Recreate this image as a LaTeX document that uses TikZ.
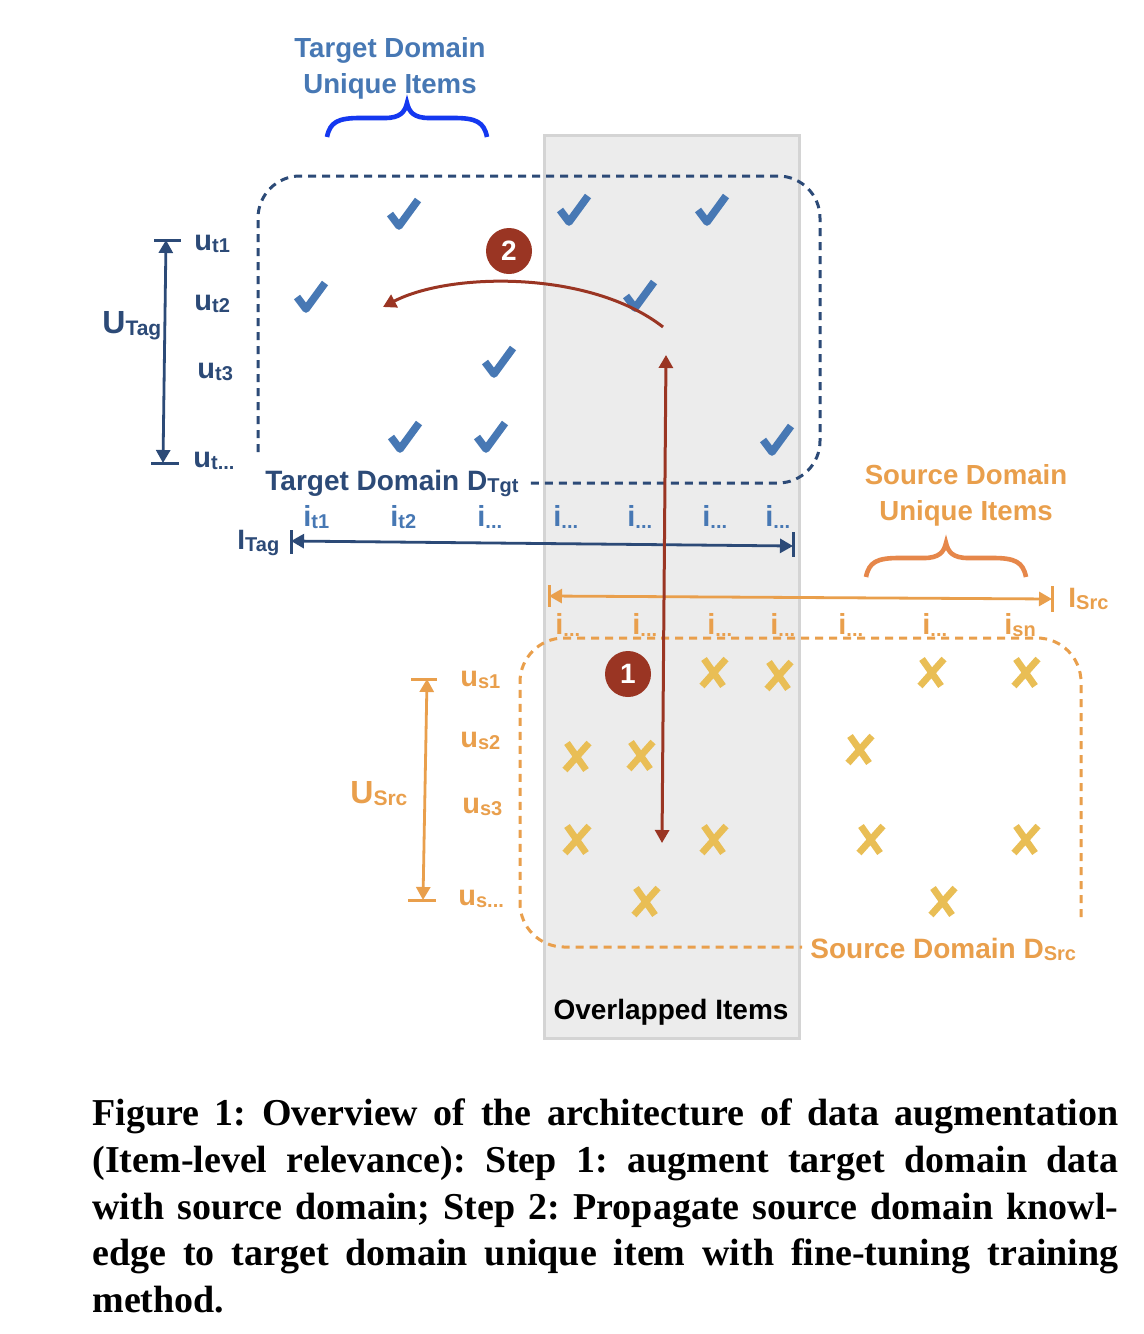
\documentclass[tikz,border=0pt]{standalone}
\usepackage{fontspec}
\setmainfont{Liberation Sans}
\newfontfamily\capserif{Liberation Serif}
\usetikzlibrary{arrows.meta}
\definecolor{navy}{HTML}{2C4A77}
\definecolor{midblue}{HTML}{4778B4}
\definecolor{brblue}{HTML}{1438F0}
\definecolor{orng}{HTML}{E99F4C}
\definecolor{yell}{HTML}{E9BE55}
\definecolor{obrace}{HTML}{E6874A}
\definecolor{redd}{HTML}{9A3523}
\definecolor{grayfill}{HTML}{ECECEC}
\definecolor{grayedge}{HTML}{D4D4D4}
\newcommand\mylab[4]{{\fontsize{#3}{#3}\selectfont #1}\raisebox{-1pt}{\fontsize{#4}{#4}\selectfont #2}}
\tikzset{
  lbl/.style={inner sep=0, anchor=base west, font=\bfseries},
  dbl/.style={arrows={Triangle[length=6.5pt,width=7pt]-Triangle[length=6.5pt,width=7pt]}},
  sgl/.style={arrows={-Triangle[length=6.5pt,width=7pt]}},
  barline/.style={line width=1.5pt},
  tgtdash/.style={draw=navy, line width=1.5pt, dash pattern=on 4pt off 3pt},
  srcdash/.style={draw=orng, line width=1.5pt, dash pattern=on 4pt off 3pt},
  chk/.pic={\draw[midblue, line width=3.8pt, line join=round] (-14,-1) -- (-5,11) -- (14,-15);},
  crs/.pic={\draw[yell, line width=3.4pt] (-10,-14) -- (9,13) (12,-14) -- (-12,13);},
  brc/.pic={\draw[line width=2.3pt] (-80,0) .. controls (-77,-15) and (-69,-19) .. (-47,-19) -- (-22,-19) .. controls (-7,-19) and (-2,-25) .. (0,-34) .. controls (2,-25) and (7,-19) .. (22,-19) -- (47,-19) .. controls (69,-19) and (77,-15) .. (80,0);},
  capline/.style={inner sep=0, anchor=base west, font={\capserif\bfseries\frenchspacing\fontsize{19pt}{23pt}\selectfont}}
}
\begin{document}
\begin{tikzpicture}[x=0.5pt,y=-0.5pt]
\useasboundingbox (0,0) rectangle (1144,1334);
\fill[white] (0,0) rectangle (1144,1334);
% overlapped items box
\node (ovl) [draw=grayedge, fill=grayfill, line width=1.5pt, minimum width=127.5pt, minimum height=451.5pt, inner sep=0, anchor=north west] at (543,134) {};
\node (ovlT) [inner sep=0, anchor=base, font=\bfseries\fontsize{14pt}{14pt}\selectfont] at (671,1019) {Overlapped Items};
% dashed domain outlines
\draw[tgtdash, rounded corners=21pt] (258,452) -- (258,176) -- (820,176) -- (820,483) -- (525,483);
\draw[srcdash, rounded corners=22pt] (1081,917) -- (1081,638) -- (520,638) -- (520,947) -- (802,947);
% titles and braces
\node (tgtU) [inner sep=0, align=center, text=midblue, font=\bfseries\fontsize{13.8pt}{18pt}\selectfont] at (390,68) {Target Domain\\Unique Items};
\node (srcU) [inner sep=0, align=center, text=orng, font=\bfseries\fontsize{13.8pt}{18pt}\selectfont] at (966,495) {Source Domain\\Unique Items};
\pic[color=brblue] at (407,137) {brc};
\pic[color=obrace] at (946,577) {brc};
% domain labels
\node[lbl, text=navy] (tgtD) at (265,490) {\mylab{Target Domain D}{Tgt}{14pt}{10pt}};
\node[lbl, text=orng] (srcD) at (810,958) {\mylab{Source Domain D}{Src}{14pt}{10pt}};
% target user labels
\node[lbl, text=navy] (uTag) at (102,333) {\mylab{U}{Tag}{16pt}{10.5pt}};
\node[lbl, text=navy] (ut1) at (194,250) {\mylab{u}{t1}{14.5pt}{10pt}};
\node[lbl, text=navy] (ut2) at (194,310) {\mylab{u}{t2}{14.5pt}{10pt}};
\node[lbl, text=navy] (ut3) at (197,378) {\mylab{u}{t3}{14.5pt}{10pt}};
\node[lbl, text=navy] (utd) at (193,467) {\mylab{u}{t...}{14.5pt}{10pt}};
% target item labels
\node[lbl, text=navy] (ITag) at (237,549) {\mylab{I}{Tag}{14pt}{10pt}};
\node[lbl, text=midblue] (it1) at (303,526) {\mylab{i}{t1}{14.5pt}{10pt}};
\node[lbl, text=midblue] (it2) at (390,526) {\mylab{i}{t2}{14.5pt}{10pt}};
\node[lbl, text=midblue] (it3) at (477,526) {\mylab{i}{...}{14.5pt}{10pt}};
\node[lbl, text=midblue] (it4) at (553,526) {\mylab{i}{...}{14.5pt}{10pt}};
\node[lbl, text=midblue] (it5) at (627,526) {\mylab{i}{...}{14.5pt}{10pt}};
\node[lbl, text=midblue] (it6) at (702,526) {\mylab{i}{...}{14.5pt}{10pt}};
\node[lbl, text=midblue] (it7) at (765,526) {\mylab{i}{...}{14.5pt}{10pt}};
% source item labels
\node[lbl, text=orng] (ISrc) at (1068,607) {\mylab{I}{Src}{14pt}{10pt}};
\node[lbl, text=orng] (is1) at (555,634) {\mylab{i}{...}{14.5pt}{10pt}};
\node[lbl, text=orng] (is2) at (632,634) {\mylab{i}{...}{14.5pt}{10pt}};
\node[lbl, text=orng] (is3) at (707,634) {\mylab{i}{...}{14.5pt}{10pt}};
\node[lbl, text=orng] (is4) at (770,634) {\mylab{i}{...}{14.5pt}{10pt}};
\node[lbl, text=orng] (is5) at (838,634) {\mylab{i}{...}{14.5pt}{10pt}};
\node[lbl, text=orng] (is6) at (922,634) {\mylab{i}{...}{14.5pt}{10pt}};
\node[lbl, text=orng] (isn) at (1004,634) {\mylab{i}{sn}{14.5pt}{10pt}};
% source user labels
\node[lbl, text=orng] (uSrc) at (350,803) {\mylab{U}{Src}{16pt}{10.5pt}};
\node[lbl, text=orng] (us1) at (460,686) {\mylab{u}{s1}{14.5pt}{10pt}};
\node[lbl, text=orng] (us2) at (460,747) {\mylab{u}{s2}{14.5pt}{10pt}};
\node[lbl, text=orng] (us3) at (462,813) {\mylab{u}{s3}{14.5pt}{10pt}};
\node[lbl, text=orng] (usd) at (458,905) {\mylab{u}{s...}{14.5pt}{10pt}};
% check marks
\foreach \p in {(404,215),(574,211),(712,211),(311,298),(640,297),(499,363),(405,438),(491,438),(777,441)}
  \pic at \p {chk};
% crosses
\foreach \p in {(714,673),(779,676),(932,673),(1026,673),(577,757),(641,756),(860,750),(577,840),(714,840),(871,840),(1026,840),(646,902),(943,902)}
  \pic at \p {crs};
% user / item range arrows
\coordinate (uTt) at (166,240); \coordinate (uTb) at (163,463);
\draw[navy, line width=1.4pt, dbl] (uTt) -- (uTb);
\draw[navy, barline] ([xshift=-6pt]uTt) -- ([xshift=7.5pt]uTt);
\draw[navy, barline] ([xshift=-6pt]uTb) -- ([xshift=8pt]uTb);
\coordinate (ITl) at (291,541); \coordinate (ITr) at (793,546);
\draw[navy, line width=1.4pt, dbl] (ITl) -- (ITr);
\draw[navy, barline] ([yshift=5.5pt]ITl) -- ([yshift=-6.5pt]ITl);
\draw[navy, barline] ([yshift=7pt]ITr) -- ([yshift=-5.5pt]ITr);
\coordinate (uSt) at (427,679); \coordinate (uSb) at (423,900);
\draw[orng, line width=1.4pt, dbl] (uSt) -- (uSb);
\draw[orng, barline] ([xshift=-8pt]uSt) -- ([xshift=5pt]uSt);
\draw[orng, barline] ([xshift=-7.5pt]uSb) -- ([xshift=6.5pt]uSb);
\coordinate (ISl) at (549,596); \coordinate (ISr) at (1052,599);
\draw[orng, line width=1.4pt, dbl] (ISl) -- (ISr);
\draw[orng, barline] ([yshift=5.5pt]ISl) -- ([yshift=-5.5pt]ISl);
\draw[orng, barline] ([yshift=6.5pt]ISr) -- ([yshift=-6.5pt]ISr);
% step arrows
\coordinate (r1t) at (666,355); \coordinate (r1b) at (662,843);
\draw[redd, line width=1.5pt, dbl] (r1t) -- (r1b);
\coordinate (r2s) at (663,327); \coordinate (r2e) at (383,307);
\draw[redd, line width=1.5pt, sgl] (r2s) .. controls (590,270) and (450,272) .. (r2e);
\node[circle, fill=redd, minimum size=23pt, inner sep=0, text=white, font=\bfseries\fontsize{14pt}{14pt}\selectfont] (s2) at (509,251) {2};
\node[circle, fill=redd, minimum size=23pt, inner sep=0, text=white, font=\bfseries\fontsize{14pt}{14pt}\selectfont] (s1) at (628,674) {1};
% caption
\node[capline] (cap1) at (92,1125) {\makebox[513pt][s]{Figure 1: Overview of the architecture of data augmentation}};
\node[capline] (cap2) at (92,1172) {\makebox[513pt][s]{(Item-level relevance): Step 1: augment target domain data}};
\node[capline] (cap3) at (92,1219) {\makebox[513pt][s]{with source domain; Step 2: Propagate source domain knowl-}};
\node[capline] (cap4) at (92,1265) {\makebox[513pt][s]{edge to target domain unique item with fine-tuning training}};
\node[capline] (cap5) at (92,1312) {method.};
\end{tikzpicture}
\end{document}
